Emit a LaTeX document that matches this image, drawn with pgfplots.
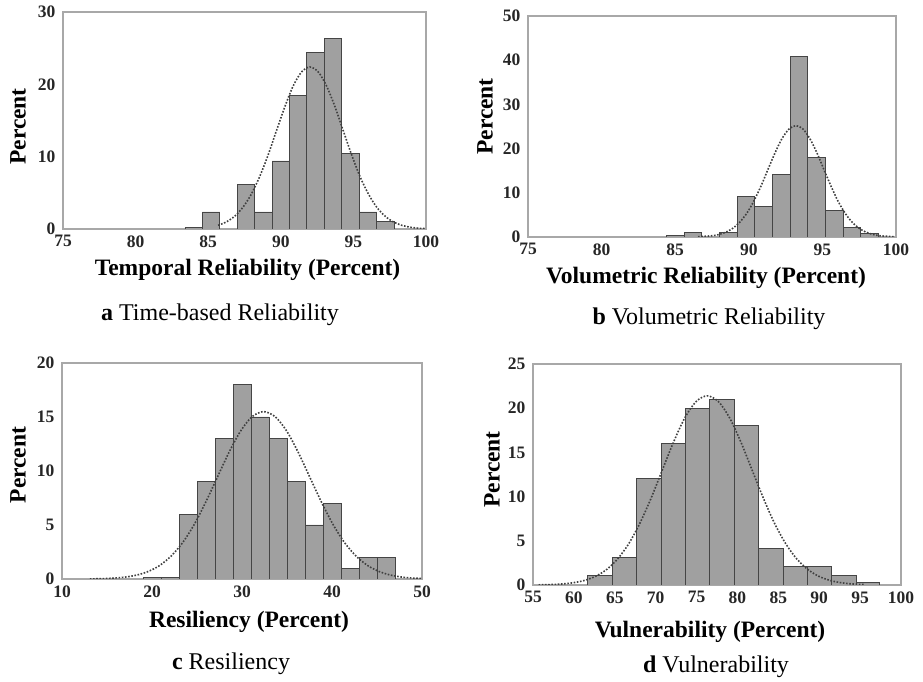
\documentclass[border=0pt]{standalone}
\usepackage{pgfplots}
\pgfplotsset{compat=1.18}
\usepackage{fontspec}
\setmainfont{Liberation Serif}
\definecolor{barfill}{HTML}{A0A0A0}
\definecolor{baredge}{HTML}{454545}
\definecolor{framec}{HTML}{A8A8A8}
\definecolor{curvec}{HTML}{404040}
\pgfplotsset{
  histo/.style={
    scale only axis,
    axis line style={draw=framec, line width=1.2pt},
    major tick length=0pt,
    /pgf/number format/assume math mode=true,
    ticklabel style={font=\fontsize{17.5}{19}\selectfont\bfseries, text=black!85},
    xticklabel style={yshift=-3pt},
    yticklabel style={xshift=-4pt},
    label style={font=\fontsize{23.5}{27}\selectfont\bfseries},
    ylabel style={at={(axis description cs:0,0.5)}, anchor=center},
    xlabel style={at={(axis description cs:0.5,0)}, anchor=center},
  },
  bars/.style={ybar interval, fill=barfill, draw=baredge, line width=0.9pt},
  curve/.style={smooth, dash pattern=on 1.6pt off 1.6pt, line width=1.6pt, color=curvec},
}
\begin{document}
\begin{tikzpicture}
\path[use as bounding box] (0,0) rectangle (923pt,682pt);
% ---------- a ----------
\begin{axis}[histo, at={(63pt,453pt)}, anchor=south west, width=363pt, height=217pt,
  xmin=75, xmax=100, ymin=0, ymax=30, xtick={75,80,...,100}, ytick={0,10,20,30},
  xlabel={Temporal Reliability (Percent)}, ylabel={Percent},
  xlabel style={yshift=-41pt, xshift=3pt}, ylabel style={yshift=45pt, xshift=-6pt}]
\addplot[bars] coordinates {(83.4,0.2) (84.6,2.35) (85.8,0) (87.0,6.2) (88.2,2.35) (89.4,9.4) (90.6,18.4) (91.8,24.4) (93.0,26.4) (94.2,10.4) (95.4,2.35) (96.6,1.1) (97.8,0)};
\addplot[curve] coordinates {(85.68,0.51) (86.25,0.98) (86.83,1.78) (87.4,3.03) (87.98,4.85) (88.55,7.27) (89.13,10.25) (89.7,13.59) (90.28,16.91) (90.85,19.77) (91.43,21.71) (92.0,22.4) (92.58,21.71) (93.15,19.77) (93.73,16.91) (94.3,13.59) (94.88,10.25) (95.45,7.27) (96.03,4.85) (96.6,3.03) (97.18,1.78) (97.75,0.98) (98.33,0.51) (98.9,0.25) (99.48,0.11) (100,0.05)};
\end{axis}
% ---------- b ----------
\begin{axis}[histo, at={(528pt,445pt)}, anchor=south west, width=368pt, height=221pt,
  xmin=75, xmax=100, ymin=0, ymax=50, xtick={75,80,...,100}, ytick={0,10,...,50},
  xlabel={Volumetric Reliability (Percent)}, ylabel={Percent},
  xlabel style={yshift=-41pt, xshift=-6pt}, ylabel style={yshift=43pt, xshift=10pt}]
\addplot[bars] coordinates {(84.4,0.4) (85.6,1.1) (86.8,0) (88.0,1.1) (89.2,9.1) (90.4,7.0) (91.6,14.2) (92.8,40.8) (94.0,18.0) (95.2,5.9) (96.4,2.1) (97.6,0.9) (98.8,0)};
\addplot[curve] coordinates {(86.55,0.06) (87.5,0.28) (87.98,0.57) (88.45,1.11) (88.93,2.01) (89.4,3.41) (89.88,5.45) (90.35,8.18) (90.83,11.54) (91.3,15.28) (91.78,19.02) (92.25,22.24) (92.73,24.42) (93.2,25.2) (93.68,24.42) (94.15,22.24) (94.63,19.02) (95.1,15.28) (95.58,11.54) (96.05,8.18) (96.53,5.45) (97.0,3.41) (97.48,2.01) (97.95,1.11) (98.43,0.57) (98.9,0.28) (99.85,0.06)};
\end{axis}
% ---------- c ----------
\begin{axis}[histo, at={(62pt,103pt)}, anchor=south west, width=360pt, height=216pt,
  xmin=10, xmax=50, ymin=0, ymax=20, xtick={10,20,...,50}, ytick={0,5,...,20},
  xlabel={Resiliency (Percent)}, ylabel={Percent},
  xlabel style={yshift=-43pt, xshift=7pt}, ylabel style={yshift=44pt, xshift=6pt}]
\addplot[bars] coordinates {(19,0.15) (21,0.15) (23,6) (25,9) (27,13) (29,18) (31,15) (33,13) (35,9) (37,5) (39,7) (41,1) (43,2) (45,2) (47,0)};
\addplot[curve] coordinates {(13.09,0.01) (14.38,0.03) (15.66,0.08) (16.95,0.17) (18.24,0.35) (19.53,0.68) (20.81,1.23) (22.1,2.10) (23.39,3.35) (24.68,5.03) (25.96,7.10) (27.25,9.40) (28.54,11.70) (29.83,13.68) (31.11,15.02) (32.4,15.5) (33.69,15.02) (34.98,13.68) (36.26,11.70) (37.55,9.40) (38.84,7.10) (40.13,5.03) (41.41,3.35) (42.7,2.10) (43.99,1.23) (45.28,0.68) (46.56,0.35) (47.85,0.17) (49.14,0.08) (50,0.05)};
\end{axis}
% ---------- d ----------
\begin{axis}[histo, at={(533pt,97pt)}, anchor=south west, width=368pt, height=221pt,
  xmin=55, xmax=100, ymin=0, ymax=25, xtick={55,60,...,100}, ytick={0,5,...,25},
  xlabel={Vulnerability (Percent)}, ylabel={Percent},
  xlabel style={yshift=-47pt, xshift=-7pt}, ylabel style={yshift=41pt, xshift=5pt}]
\addplot[bars] coordinates {(61.7,1.1) (64.7,3.1) (67.7,12) (70.7,16) (73.65,20) (76.6,21) (79.6,18) (82.6,4.1) (85.6,2.1) (88.55,2.1) (91.5,1.05) (94.5,0.3) (97.4,0)};
\addplot[curve] coordinates {(55.68,0.02) (57.05,0.05) (58.43,0.11) (59.8,0.24) (61.18,0.49) (62.55,0.94) (63.93,1.70) (65.3,2.90) (66.68,4.63) (68.05,6.95) (69.43,9.80) (70.8,12.98) (72.18,16.15) (73.55,18.89) (74.93,20.74) (76.3,21.4) (77.68,20.74) (79.05,18.89) (80.43,16.15) (81.8,12.98) (83.18,9.80) (84.55,6.95) (85.93,4.63) (87.3,2.90) (88.68,1.70) (90.05,0.94) (91.43,0.49) (92.8,0.24) (94.18,0.11) (95.55,0.05)};
\end{axis}
% ---------- captions ----------
\node[anchor=base, font=\fontsize{24}{28}\selectfont] at (220pt,361pt) {\textbf{a} Time-based Reliability};
\node[anchor=base, font=\fontsize{24}{28}\selectfont] at (709pt,357pt) {\textbf{b} Volumetric Reliability};
\node[anchor=base, font=\fontsize{24}{28}\selectfont] at (231pt,12pt) {\textbf{c} Resiliency};
\node[anchor=base, font=\fontsize{24}{28}\selectfont] at (716pt,9pt) {\textbf{d} Vulnerability};
\end{tikzpicture}
\end{document}
